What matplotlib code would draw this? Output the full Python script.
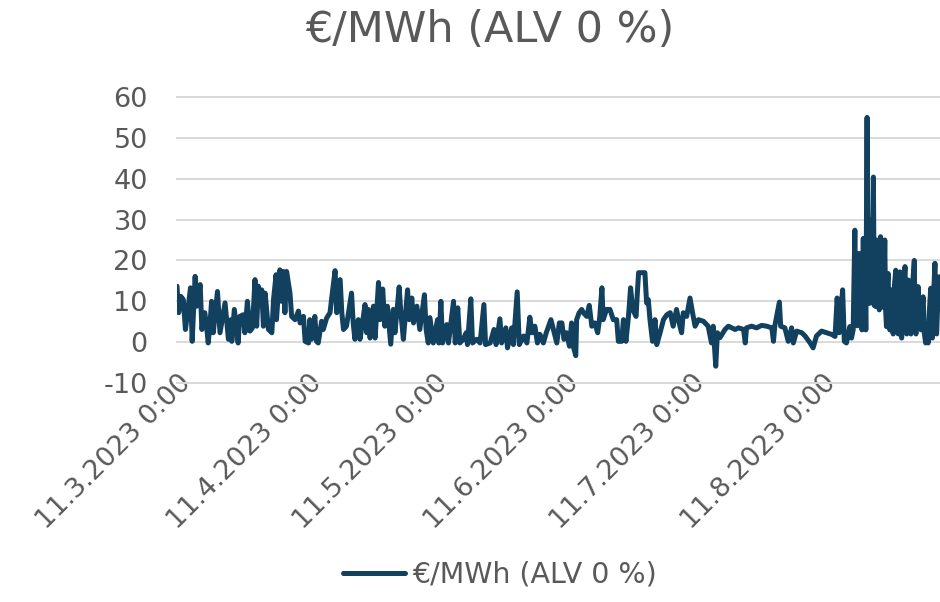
import matplotlib
matplotlib.use("Agg")
import matplotlib.pyplot as plt
import matplotlib.transforms as mtransforms
from matplotlib.lines import Line2D
import pandas as pd

# ---------------- data ----------------
start = "2023-03-11 00:00"
x_span_days = 181

days = [0.0, 0.4, 0.9, 1.5, 2.0, 2.5, 3.2, 3.6, 4.0, 4.3, 4.7, 5.5, 5.9, 6.6, 7.1, 7.4, 7.8, 8.2, 8.6, 9.6,
        10.2, 10.8, 11.4, 12.2, 12.8, 13.0, 13.6, 14.5, 14.9, 15.7, 16.1, 16.7, 17.3, 17.9, 18.5, 18.9, 19.3,
        19.7, 20.1, 20.5, 20.9, 21.7, 22.5, 22.9, 23.5, 23.6, 24.4, 24.8, 25.2, 25.6, 26.0, 26.8, 27.2, 28.0,
        28.8, 29.2, 30.0, 30.4, 31.2, 31.5, 31.9, 32.7, 33.1, 33.5, 34.3, 34.7, 35.5, 36.3, 36.7, 37.5, 37.9,
        38.7, 39.1, 39.5, 40.2, 41.4, 41.8, 42.2, 43.0, 43.4, 44.0, 44.6, 45.0, 45.4, 45.8, 46.6, 47.0, 47.8,
        48.2, 48.8, 49.3, 49.9, 50.7, 51.3, 51.7, 52.7, 53.1, 53.7, 54.7, 55.1, 55.7, 56.1, 56.9, 57.6, 58.7,
        59.1, 59.6, 60.0, 60.8, 61.8, 62.1, 62.6, 63.0, 64.0, 64.4, 65.6, 66.0, 66.6, 67.1, 67.9, 68.6, 68.9,
        69.7, 70.1, 71.1, 71.9, 72.8, 73.2, 74.3, 75.2, 75.7, 76.6, 77.0, 78.0, 78.4, 79.4, 79.8, 80.7, 81.2,
        82.2, 83.0, 83.7, 84.2, 84.9, 85.5, 86.1, 86.9, 87.6, 88.7, 89.3, 90.1, 90.7, 91.3, 91.8, 92.4, 93.1,
        93.6, 94.0, 94.6, 94.8, 95.4, 96.0, 96.4, 97.2, 97.8, 98.4, 99.1, 99.8, 100.3, 100.8, 101.1, 101.9,
        102.7, 103.5, 104.3, 104.7, 105.5, 105.9, 106.5, 107.1, 107.6, 108.1, 108.9, 109.2, 109.5, 111.0,
        111.4, 111.8, 112.2, 112.8, 113.4, 113.8, 114.6, 115.4, 116.2, 117.0, 117.7, 118.5, 119.3, 119.7,
        120.1, 120.9, 121.7, 122.3, 122.9, 123.7, 124.9, 126.0, 126.8, 127.2, 127.8, 128.2, 128.8, 130.0,
        130.8, 131.6, 132.4, 133.2, 134.4, 134.8, 135.1, 136.3, 137.5, 138.7, 139.9, 141.1, 141.5, 141.8,
        142.9, 143.2, 144.2, 145.0, 145.8, 146.2, 147.0, 148.2, 149.0, 150.2, 150.9, 151.7, 152.9, 154.1,
        155.3, 156.1, 156.6, 157.1, 157.9, 158.3, 158.8, 159.6, 160.0, 160.4, 160.8, 161.0, 161.2, 161.4,
        161.8, 162.0, 162.2, 162.5, 162.8, 163.0, 163.2, 163.4, 163.7, 163.9, 164.1, 164.3, 164.6, 164.8,
        165.0, 165.2, 165.4, 165.6, 165.8, 166.0, 166.2, 166.4, 166.6, 166.9, 167.1, 167.4, 167.6, 167.9,
        168.1, 168.3, 168.5, 168.7, 168.9, 169.1, 169.3, 169.5, 169.7, 169.9, 170.2, 170.5, 170.8, 171.1,
        171.3, 171.5, 171.7, 171.9, 172.3, 172.7, 172.9, 173.1, 173.3, 173.5, 173.8, 174.1, 174.5, 174.9,
        175.1, 175.3, 175.6, 175.8, 176.1, 176.5, 176.8, 177.0, 177.3, 177.6, 178.0, 178.2, 178.5, 178.8,
        179.0, 179.2, 179.5, 179.8, 180.0, 180.2, 180.5, 180.7, 181.0]

prices = [13.7, 7.2, 11.2, 10.4, 3.1, 7.2, 13.3, 0.2, 9.0, 16.1, 8.8, 14.1, 3.1, 7.2, 3.0, -0.2, 4.0, 10.0, 2.3, 12.4,
          2.3, 6.0, 9.6, 0.7, 5.5, 0.2, 8.0, -0.2, 6.3, 6.7, 2.3, 10.0, 2.7, 3.5, 15.3, 3.9, 13.7,
          9.0, 12.8, 3.9, 12.0, 3.1, 2.3, 10.4, 16.5, 5.5, 17.7, 10.0, 17.3, 7.2, 17.3, 12.0, 6.3, 5.5,
          7.6, 4.7, 6.3, 0.2, -0.2, 5.5, 0.7, 6.3, 0.2, -0.2, 5.1, 3.1, 5.9, 7.2, 10.8, 17.5, 7.2,
          15.3, 7.2, 3.1, 3.9, 12.0, 4.7, 0.7, 5.5, 0.7, 4.7, 9.2, 2.3, 8.0, 1.0, 8.8, 1.0, 14.6,
          5.5, 13.0, 3.9, 8.8, -0.5, 8.0, 2.3, 13.5, 7.2, 0.7, 12.8, 5.5, 10.8, 4.7, 8.8, 3.1, 11.6,
          3.1, -0.2, 6.0, -0.2, 5.5, -0.2, 10.0, -0.2, 4.3, -0.2, 10.0, -0.2, 8.4, -0.2, 0.7, 2.3, -0.6,
          10.6, -0.2, 0.7, -0.2, 9.2, -0.6, -0.2, 3.1, -0.6, 5.7, -0.2, 3.5, -1.4, 3.5, -0.6, 12.3, -0.6,
          1.5, -0.2, 6.1, 2.3, 3.9, -0.2, 1.9, -0.2, 2.3, 5.5, 3.1, -0.2, 4.7, 4.7, 0.7, 2.3, -1.0,
          4.7, -1.0, -3.3, 5.5, 7.2, 8.0, 7.2, 6.3, 9.0, 3.9, 4.7, 2.3, 6.3, 13.3, 5.5, 8.0,
          8.0, 5.5, 5.5, 0.2, 0.2, 5.5, 0.2, 6.3, 13.3, 8.0, 6.3, 12.0, 17.0, 17.0,
          9.6, 10.4, 5.5, 0.2, 5.5, -0.6, 2.3, 5.5, 6.7, 7.2, 3.9, 8.0, 3.9, 2.3,
          7.2, 6.3, 10.8, 7.2, 3.9, 5.5, 5.1, 3.9, -0.2, 3.9, -5.9, 2.3, 1.1, 3.1,
          3.9, 3.5, 3.1, 3.5, 3.1, -0.2, 3.5, 3.9, 3.5, 4.1, 3.9, 3.5, 0.2, 3.9,
          9.8, 3.9, 3.5, 0.2, 3.5, -0.2, 2.7, 2.3, 1.5, -0.2, -1.4, 1.5, 2.7, 2.3,
          1.9, 1.4, 10.8, 2.3, 12.8, 0.2, -0.2, 3.8, 1.0, 3.0, 27.4, 8.0, 20.0, 4.0,
          21.7, 6.0, 18.0, 3.0, 25.4, 8.0, 22.0, 3.0, 55.0, 10.3, 24.0, 9.5, 30.0, 10.0,
          28.0, 40.4, 9.0, 22.0, 8.7, 25.0, 9.0, 24.0, 7.9, 25.8, 9.0, 20.0, 8.5, 25.0,
          8.0, 3.8, 14.0, 16.8, 5.0, 3.0, 10.0, 12.8, 4.0, 2.0, 14.0, 17.6, 3.0, 2.0,
          12.0, 17.2, 5.0, 1.0, 12.0, 18.5, 6.0, 2.0, 11.0, 15.2, 4.0, 2.0, 14.0, 20.0,
          4.0, 2.0, 10.0, 13.6, 6.0, 3.0, 9.0, 11.1, 2.0, -0.2, 3.0, -0.2, 8.0, 13.2,
          3.0, 1.0, 12.0, 19.3, 5.0, 2.0, 10.0, 16.0, 13.0]

tick_dates = ["2023-03-11", "2023-04-11", "2023-05-11", "2023-06-11", "2023-07-11", "2023-08-11"]
tick_labels = ["11.3.2023 0:00", "11.4.2023 0:00", "11.5.2023 0:00",
               "11.6.2023 0:00", "11.7.2023 0:00", "11.8.2023 0:00"]
y_ticks = [-10, 0, 10, 20, 30, 40, 50, 60]
series_name = "€/MWh (ALV 0 %)"

# ---------------- style ----------------
LINE = "#12405F"
TXT = "#595959"
GRID = "#D9D9D9"

t0 = pd.Timestamp(start)
x = t0 + pd.to_timedelta(days, unit="D")

fig = plt.figure(figsize=(9.4, 6.02), dpi=100)
ax = fig.add_axes([177 / 940, 1 - 383 / 602, (940 - 177) / 940, (383 - 97) / 602])

ax.plot(x, prices, color=LINE, lw=3.6, solid_joinstyle="round", solid_capstyle="round", zorder=3)

ax.set_xlim(t0, t0 + pd.Timedelta(days=x_span_days))
ax.set_ylim(-10, 60)
ax.set_yticks(y_ticks)
ax.set_yticklabels([str(v) for v in y_ticks])
ax.yaxis.grid(True, color=GRID, lw=1.4)
ax.set_axisbelow(True)
for gl in ax.get_ygridlines():
    gl.set_clip_on(False)
for s in ax.spines.values():
    s.set_visible(False)

ax.set_xticks(pd.to_datetime(tick_dates))
ax.set_xticklabels(tick_labels)
ax.tick_params(axis="both", length=0, labelsize=19.5, labelcolor=TXT)
ax.tick_params(axis="y", pad=21)
ax.tick_params(axis="x", pad=0)
offset = mtransforms.ScaledTranslation(10 / 100, 4 / 100, fig.dpi_scale_trans)
for lab in ax.get_xticklabels():
    lab.set_rotation(45)
    lab.set_ha("right")
    lab.set_va("center")
    lab.set_rotation_mode("anchor")
    lab.set_transform(lab.get_transform() + offset)

fig.text(490 / 940, 1 - 42 / 602, series_name, ha="center", va="baseline",
         fontsize=31, color=TXT)

handle = Line2D([], [], color=LINE, lw=3.6, solid_capstyle="round")
fig.legend(handles=[handle], labels=[series_name], loc="center",
           bbox_to_anchor=(500 / 940, 1 - 575 / 602), frameon=False, fontsize=20.5,
           handlelength=2.2, handletextpad=0.25, labelcolor=TXT)

fig.savefig("out.png", dpi=100)
